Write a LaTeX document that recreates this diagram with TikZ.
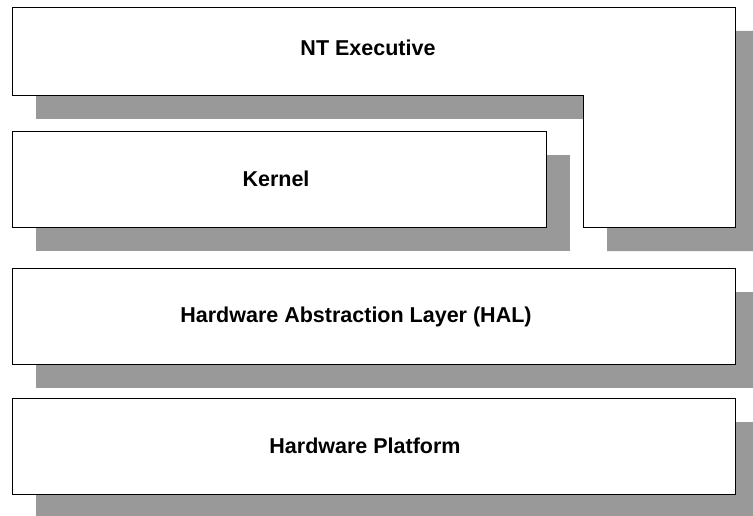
\documentclass[tikz,border=0pt]{standalone}
\usepackage{fontspec}
\setmainfont{Liberation Sans}
\usetikzlibrary{positioning}
\pgfdeclarelayer{background}
\pgfsetlayers{background,main}
\newcommand{\layerfont}{\fontsize{21.5}{25}\selectfont\bfseries}

\begin{document}
\begin{tikzpicture}[x=1pt,y=-1pt,on grid,node distance=130pt,
    layer/.style={draw=black,line width=0.8pt,fill=white,inner sep=0pt},
    drop/.style={fill=black!40,draw=none},
    caption/.style={font=\layerfont,inner sep=0pt,anchor=base}]
   \useasboundingbox (0,0) rectangle (753,516);
   % the L shaped executive
   \draw[layer] (12,7) -- (735,7) -- (735,227) -- (583,227) -- (583,95) -- (12,95) -- cycle;
   \node [layer,minimum width=534pt,minimum height=96pt] (kernel) at (279,179) {};
   \node [layer,minimum width=723pt,minimum height=96pt] (hal) at (373.5,316) {};
   \node [layer,minimum width=723pt,minimum height=96pt] (hw) [below= of hal] {};
   % shadows
   \begin{pgfonlayer}{background}
     \fill[drop,shift={(24,24)}] (12,7) -- (735,7) -- (735,227) -- (583,227) -- (583,95) -- (12,95) -- cycle;
     \foreach \b in {kernel,hal,hw}
       \fill[drop] ([shift={(24,24)}]\b.north west) rectangle ([shift={(24,24)}]\b.south east);
   \end{pgfonlayer}
   \node [caption] (ntexec) at (368,56) {NT Executive};
   \node [caption] (kern) at (276,187) {Kernel};
   \node [caption] (abst) at (356,322) {Hardware Abstraction Layer (HAL)};
   \node [caption] (plat) at (365,453) {Hardware Platform};
\end{tikzpicture}
\end{document}
